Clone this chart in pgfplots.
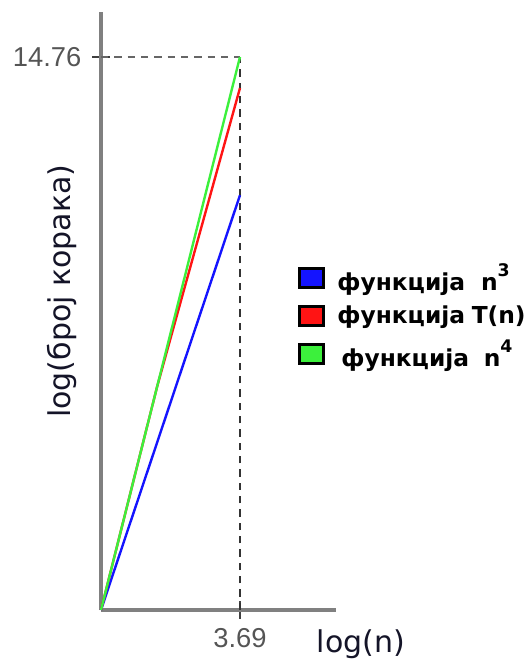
\documentclass[border=0pt]{standalone}
\usepackage{fontspec}
\setmainfont{DejaVu Sans}
\newfontfamily\tickfont{Liberation Sans}
\usepackage{pgfplots}
\pgfplotsset{compat=1.18}
\definecolor{axgray}{RGB}{128,128,128}
\definecolor{tickgray}{RGB}{85,85,85}
\definecolor{labnavy}{RGB}{20,20,40}
\definecolor{myblue}{RGB}{20,20,255}
\definecolor{myred}{RGB}{255,20,20}
\definecolor{mygreen}{RGB}{60,240,60}
\newcommand{\sups}[1]{\raisebox{0.6em}{\fontsize{13}{13}\selectfont #1}}
\begin{document}
\begin{tikzpicture}
\path[use as bounding box] (-75.75pt,-43.5pt) rectangle (322.5pt,457.5pt);
\begin{axis}[
  scale only axis,
  width=176.25pt, height=448.5pt,
  xmin=0, xmax=6.24, ymin=0, ymax=15.96,
  axis lines*=left,
  axis line style={axgray, line width=2.8pt},
  clip=false,
  xtick={3.69}, ytick={14.76},
  xticklabels={3.69}, yticklabels={14.76},
  tick align=center,
  major tick length=13pt,
  tick style={black!75, line width=1.8pt},
  xticklabel style={font=\fontsize{20.5}{21}\selectfont\tickfont, text=tickgray, anchor=north, inner sep=0pt, yshift=-7pt},
  yticklabel style={font=\fontsize{20.5}{21}\selectfont\tickfont, text=tickgray, anchor=east, inner sep=0pt, xshift=-8pt},
  xlabel={log(n)},
  ylabel={log(број корака)},
  xlabel style={font=\fontsize{22.5}{24}\selectfont, text=labnavy, at={(axis description cs:1.106,0)}, anchor=base, yshift=-31.5pt, inner sep=0pt},
  ylabel style={font=\fontsize{22.5}{24}\selectfont, text=labnavy, at={(axis description cs:0,0.533)}, anchor=base, yshift=22.5pt, inner sep=0pt},
  legend cell align=left,
  legend style={draw=none, fill=none, at={(axis description cs:0.838,0.58)}, anchor=north west, inner sep=0pt, row sep=9.5pt,
    font=\fontsize{17.5}{18}\selectfont\bfseries, nodes={inner sep=0pt, anchor=west}},
  legend image code/.code={\draw[#1, draw=black, line width=2.4pt] (0pt,-7pt) rectangle (18pt,7pt);},
]
\addplot[dashed, dash pattern=on 5.5pt off 4.5pt, black!60, line width=2pt, forget plot] coordinates {(0,14.76) (3.69,14.76)};
\addplot[dashed, dash pattern=on 5.5pt off 4.5pt, black!80, line width=2pt, forget plot] coordinates {(3.69,0) (3.69,14.76)};
\addplot[myblue, line width=1.8pt, forget plot] coordinates {(0,0) (3.69,11.07)};
\addplot[myred, line width=1.8pt, forget plot] coordinates {(0,0) (1.49,5.96) (2.76,10.56) (3.69,13.93)};
\addplot[mygreen, line width=1.8pt, forget plot] coordinates {(0,0) (3.69,14.76)};
\addlegendimage{fill=myblue}
\addlegendentry{\hspace{9pt}функција\hspace{12pt}n\sups{3}}
\addlegendimage{fill=myred}
\addlegendentry{\hspace{9pt}функција\hspace{5pt}T(n)}
\addlegendimage{fill=mygreen}
\addlegendentry{\hspace{12pt}функција\hspace{11pt}n\sups{4}}
\end{axis}
\end{tikzpicture}
\end{document}
